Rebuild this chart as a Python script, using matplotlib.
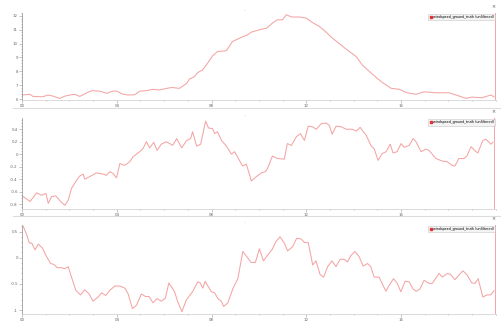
import matplotlib
matplotlib.use("Agg")
import matplotlib.pyplot as plt
from matplotlib.lines import Line2D
from matplotlib.ticker import MultipleLocator, FixedLocator

# hours since start of day
t1 = [0.00, 0.34, 0.46, 0.88, 1.09, 1.31, 1.52, 1.60, 1.81, 2.02, 2.23, 2.44, 2.74, 2.95,
      3.28, 3.58, 3.83, 4.00, 4.25, 4.46, 4.76, 4.97, 5.26, 5.52, 5.81, 6.11, 6.32, 6.65,
      6.95, 7.07, 7.28, 7.41, 7.62, 7.83, 8.04, 8.25, 8.63, 8.88, 9.18, 9.52, 9.68, 10.02,
      10.32, 10.57, 10.78, 10.99, 11.16, 11.37, 11.71, 12.00, 12.25, 12.55, 12.88, 13.09,
      13.39, 13.68, 14.11, 14.36, 14.78, 15.20, 15.58, 15.92, 16.25, 16.63, 16.97, 17.47,
      18.02, 18.32, 18.74, 18.99, 19.41, 19.79, 19.92]
v1 = [6.30, 6.35, 6.20, 6.17, 6.30, 6.22, 6.10, 6.06, 6.22, 6.30, 6.35, 6.20, 6.46, 6.61,
      6.58, 6.42, 6.58, 6.58, 6.37, 6.30, 6.32, 6.58, 6.61, 6.71, 6.66, 6.78, 6.84, 6.78,
      7.14, 7.45, 7.62, 7.91, 8.10, 8.58, 9.11, 9.42, 9.49, 10.14, 10.39, 10.63, 10.82, 10.99,
      11.11, 11.47, 11.71, 11.71, 12.07, 11.91, 11.91, 11.83, 11.52, 11.23, 10.75, 10.40,
      10.00, 9.60, 9.06, 8.46, 7.81, 7.21, 6.78, 6.71, 6.46, 6.35, 6.53, 6.46,
      6.46, 6.30, 6.06, 6.15, 6.10, 6.30, 6.17]

t2 = [0.05, 0.34, 0.62, 0.83, 1.01, 1.11, 1.25, 1.43, 1.63, 1.81, 1.95, 2.09, 2.30, 2.44,
      2.58, 2.65, 2.86, 3.14, 3.42, 3.56, 3.71, 3.84, 3.99, 4.13, 4.34, 4.55, 4.69, 4.97,
      5.11, 5.25, 5.39, 5.56, 5.70, 5.88, 6.09, 6.23, 6.36, 6.53, 6.74, 6.95, 7.12, 7.20,
      7.37, 7.54, 7.75, 7.87, 8.04, 8.13, 8.25, 8.42, 8.63, 8.84, 8.97, 9.09, 9.31, 9.47,
      9.68, 9.89, 10.11, 10.27, 10.36, 10.57, 10.78, 11.07, 11.20, 11.37, 11.58, 11.75,
      11.92, 12.08, 12.25, 12.42, 12.63, 12.84, 12.97, 13.09, 13.26, 13.47, 13.68, 13.94,
      14.11, 14.27, 14.53, 14.74, 14.86, 15.03, 15.20, 15.37, 15.54, 15.66, 15.83, 16.00,
      16.13, 16.34, 16.51, 16.63, 16.84, 17.05, 17.18, 17.47, 17.73, 17.94, 18.15, 18.27,
      18.44, 18.65, 18.78, 18.95, 19.16, 19.24, 19.45, 19.58, 19.79, 19.87]
v2 = [-0.68, -0.76, -0.62, -0.66, -0.63, -0.79, -0.68, -0.67, -0.76, -0.82, -0.74, -0.55,
      -0.42, -0.35, -0.32, -0.40, -0.36, -0.30, -0.32, -0.34, -0.28, -0.31, -0.38, -0.15,
      -0.18, -0.12, -0.04, 0.04, 0.09, 0.20, 0.10, 0.19, 0.06, 0.16, 0.20, 0.17, 0.14, 0.25,
      0.10, 0.22, 0.25, 0.36, 0.13, 0.16, 0.53, 0.42, 0.41, 0.33, 0.36, 0.22, 0.13, 0.00,
      0.04, -0.04, -0.19, -0.16, -0.43, -0.36, -0.30, -0.28, -0.23, -0.03, -0.07, -0.08,
      0.17, 0.14, 0.28, 0.33, 0.22, 0.45, 0.44, 0.40, 0.49, 0.50, 0.46, 0.32, 0.45, 0.44,
      0.40, 0.40, 0.37, 0.43, 0.30, 0.13, 0.09, -0.10, 0.01, 0.04, 0.16, 0.02, 0.04, 0.17,
      0.11, 0.14, 0.25, 0.20, 0.04, 0.08, 0.06, -0.07, -0.11, -0.12, -0.18, -0.19, -0.07,
      -0.07, -0.03, 0.12, 0.04, 0.02, 0.22, 0.24, 0.16, 0.19]

t3 = [0.05, 0.20, 0.31, 0.41, 0.55, 0.69, 0.87, 1.04, 1.21, 1.35, 1.49, 1.67, 1.81, 1.95,
      2.09, 2.27, 2.47, 2.65, 2.83, 3.00, 3.21, 3.36, 3.54, 3.71, 3.92, 4.13, 4.34, 4.48,
      4.66, 4.83, 5.04, 5.21, 5.36, 5.53, 5.70, 5.88, 6.05, 6.20, 6.44, 6.58, 6.75, 6.93,
      7.21, 7.42, 7.52, 7.63, 7.73, 7.99, 8.13, 8.27, 8.41, 8.51, 8.69, 8.90, 9.11, 9.32,
      9.49, 9.67, 9.85, 10.02, 10.19, 10.37, 10.56, 10.72, 10.89, 11.07, 11.21, 11.42,
      11.59, 11.78, 11.92, 12.08, 12.27, 12.41, 12.58, 12.73, 12.90, 13.08, 13.25, 13.43,
      13.60, 13.74, 13.88, 14.05, 14.23, 14.40, 14.58, 14.72, 14.86, 15.07, 15.36, 15.49,
      15.68, 15.84, 15.99, 16.17, 16.34, 16.51, 16.64, 16.79, 16.97, 17.18, 17.32, 17.60,
      17.74, 17.95, 18.09, 18.27, 18.44, 18.61, 18.79, 18.98, 19.12, 19.25, 19.45, 19.63,
      19.78, 19.92]
v3 = [0.60, 0.44, 0.28, 0.28, 0.15, 0.26, 0.18, 0.02, -0.11, -0.13, -0.19, -0.19, -0.21,
      -0.17, -0.37, -0.62, -0.71, -0.61, -0.69, -0.83, -0.75, -0.67, -0.72, -0.62, -0.54,
      -0.54, -0.58, -0.69, -0.97, -0.91, -0.69, -0.74, -0.74, -0.86, -0.78, -0.83, -0.77,
      -0.48, -0.65, -0.85, -1.03, -0.81, -0.64, -0.46, -0.48, -0.58, -0.45, -0.65, -0.67,
      -0.78, -0.83, -0.93, -0.86, -0.59, -0.40, 0.12, 0.02, -0.09, -0.09, 0.17, -0.06, 0.05,
      0.16, 0.31, 0.40, 0.28, 0.13, 0.21, 0.37, 0.36, 0.29, 0.29, -0.14, -0.06, -0.32, -0.37,
      -0.17, -0.06, -0.17, -0.03, -0.03, -0.08, 0.04, 0.12, 0.02, -0.16, -0.11, -0.17, -0.37,
      -0.37, -0.64, -0.53, -0.40, -0.49, -0.65, -0.45, -0.46, -0.60, -0.64, -0.60, -0.43,
      -0.49, -0.49, -0.30, -0.37, -0.30, -0.32, -0.42, -0.33, -0.25, -0.33, -0.48, -0.49,
      -0.40, -0.75, -0.71, -0.71, -0.63]

hour_ticks = [0, 4, 8, 12, 16]
hour_labels = ["00", "04", "08", "12", "16"]
series_name = "windspeed_ground_truth (unfiltered)"

panels = [
    (t1, v1, (5.94, 12.22), [6, 7, 8, 9, 10, 11, 12], 0.2),
    (t2, v2, (-0.88, 0.58), [-0.8, -0.6, -0.4, -0.2, 0, 0.2, 0.4], 0.05),
    (t3, v3, (-1.07, 0.63), [-1, -0.5, 0, 0.5], 0.1),
]
boxes = [(0.0438, 0.6894, 0.944, 0.2712),
         (0.0438, 0.3509, 0.944, 0.2826),
         (0.0438, 0.0255, 0.944, 0.2766)]
seps = [0.664, 0.329]

line_col = "#f4a4a4"

fig = plt.figure(figsize=(5.02, 3.22), dpi=100)
for (t, v, ylim, yt, ymin), box in zip(panels, boxes):
    ax = fig.add_axes(box)
    ax.plot(t, v, color=line_col, lw=0.75)
    ax.axvline(t[-1] + 0.03, color=line_col, lw=0.7)
    ax.set_xlim(0, 20)
    ax.set_ylim(*ylim)
    ax.xaxis.set_major_locator(FixedLocator(hour_ticks))
    ax.set_xticklabels(hour_labels)
    ax.xaxis.set_minor_locator(MultipleLocator(1))
    ax.yaxis.set_major_locator(FixedLocator(yt))
    ax.set_yticklabels([f"{y:g}" for y in yt])
    ax.yaxis.set_minor_locator(MultipleLocator(ymin))
    for s in ["top", "right"]:
        ax.spines[s].set_visible(False)
    ax.spines["left"].set_color("#888888")
    ax.spines["bottom"].set_color("#cccccc")
    ax.spines["left"].set_linewidth(0.5)
    ax.spines["bottom"].set_linewidth(0.5)
    ax.tick_params(which="both", colors="#999999", labelcolor="#666666",
                   labelsize=2.8, width=0.4, pad=1)
    ax.tick_params(which="major", length=2)
    ax.tick_params(which="minor", length=1)
    ax.set_title("\u2013", fontsize=3, color="#bbbbbb", pad=1, x=0.47)
    handle = Line2D([], [], color="#e83030", marker="s", ls="none", markersize=1.5)
    ax.legend([handle], [series_name], loc="upper right", fontsize=2.4,
              frameon=True, facecolor="#f2f2f2", edgecolor="#bbbbbb",
              handlelength=0.6, handletextpad=0.3, borderpad=0.4,
              borderaxespad=0.3, fancybox=False).get_frame().set_linewidth(0.4)
    ax.text(1.0, 1.04, "\u00d7", transform=ax.transAxes, fontsize=3.5,
            color="#555555", ha="right", va="bottom")

for y in seps:
    fig.add_artist(Line2D([0.025, 1.0], [y, y], color="#dddddd", lw=0.8))

fig.savefig("out.png", dpi=100, facecolor="white")
